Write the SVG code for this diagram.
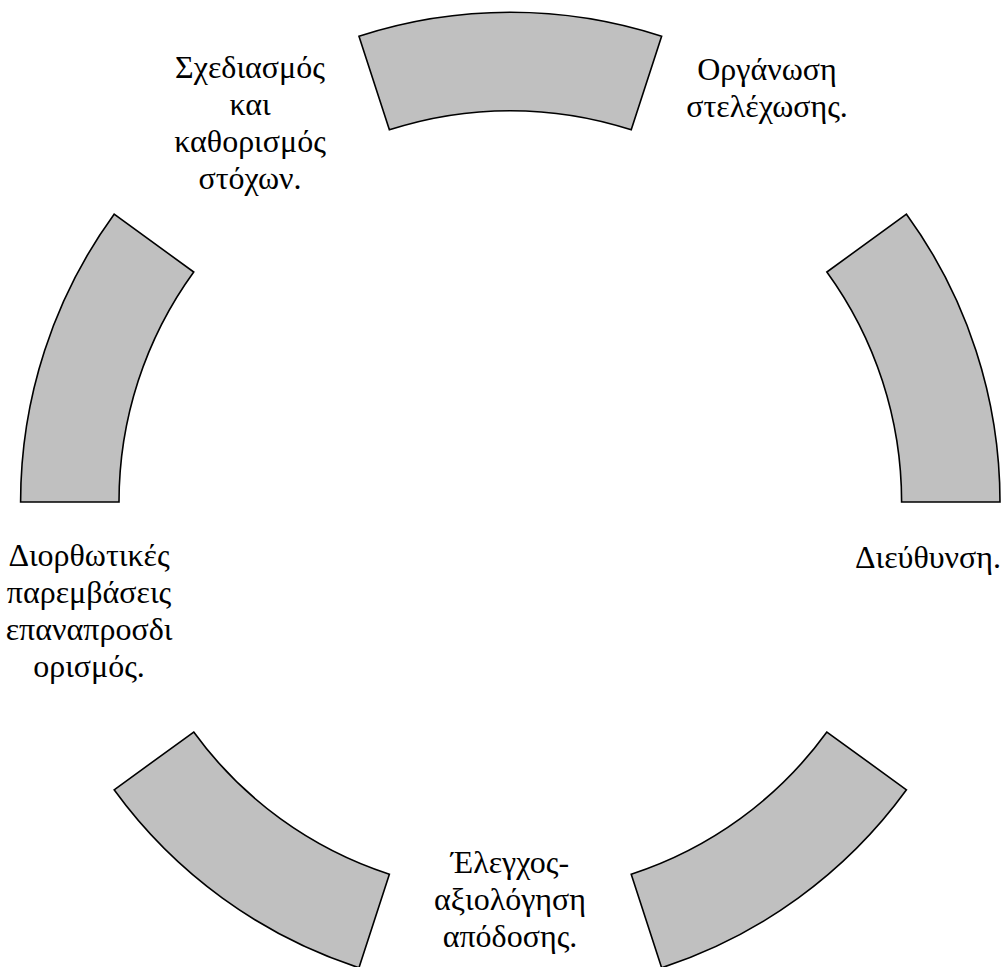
<svg xmlns="http://www.w3.org/2000/svg" width="1002" height="967" viewBox="0 0 1002 967">
<style>
.seg{fill:#C0C0C0;stroke:#000;stroke-width:1.6;stroke-linejoin:miter}
.lbl{font-family:"Liberation Serif","DejaVu Serif",serif;font-size:32px;fill:#000;text-anchor:middle}
</style>
<rect width="1002" height="967" fill="#fff"/>
<g id="seg-right"><path class="seg" d="M1000,502 A489.7,489.7 0 0 0 906.47,214.16 L826.87,272 A391.3,391.3 0 0 1 901.6,502 Z"/></g>
<g id="seg-top"><path class="seg" d="M661.63,36.27 A489.7,489.7 0 0 0 358.97,36.27 L389.38,129.85 A391.3,391.3 0 0 1 631.22,129.85 Z"/></g>
<g id="seg-left"><path class="seg" d="M114.13,214.16 A489.7,489.7 0 0 0 20.6,502 L119,502 A391.3,391.3 0 0 1 193.73,272 Z"/></g>
<g id="seg-bottom-left"><path class="seg" d="M114.13,789.84 A489.7,489.7 0 0 0 358.97,967.73 L389.38,874.15 A391.3,391.3 0 0 1 193.73,732 Z"/></g>
<g id="seg-bottom-right"><path class="seg" d="M661.63,967.73 A489.7,489.7 0 0 0 906.47,789.84 L826.87,732 A391.3,391.3 0 0 1 631.22,874.15 Z"/></g>
<g id="connectors"></g>
<g id="label-planning"><text class="lbl" x="250"><tspan x="250" y="78">Σχεδιασμός</tspan><tspan x="250" y="115">και</tspan><tspan x="250" y="152">καθορισμός</tspan><tspan x="250" y="189">στόχων.</tspan></text></g>
<g id="label-organizing"><text class="lbl" x="767"><tspan x="767" y="80">Οργάνωση</tspan><tspan x="767" y="117">στελέχωσης.</tspan></text></g>
<g id="label-directing"><text class="lbl" x="928" y="568">Διεύθυνση.</text></g>
<g id="label-control"><text class="lbl" x="510"><tspan x="510" y="873">Έλεγχος-</tspan><tspan x="510" y="910">αξιολόγηση</tspan><tspan x="510" y="947">απόδοσης.</tspan></text></g>
<g id="label-corrective"><text class="lbl" x="89"><tspan x="89" y="566">Διορθωτικές</tspan><tspan x="89" y="603">παρεμβάσεις</tspan><tspan x="89" y="640">επαναπροσδι</tspan><tspan x="89" y="677">ορισμός.</tspan></text></g>
</svg>
